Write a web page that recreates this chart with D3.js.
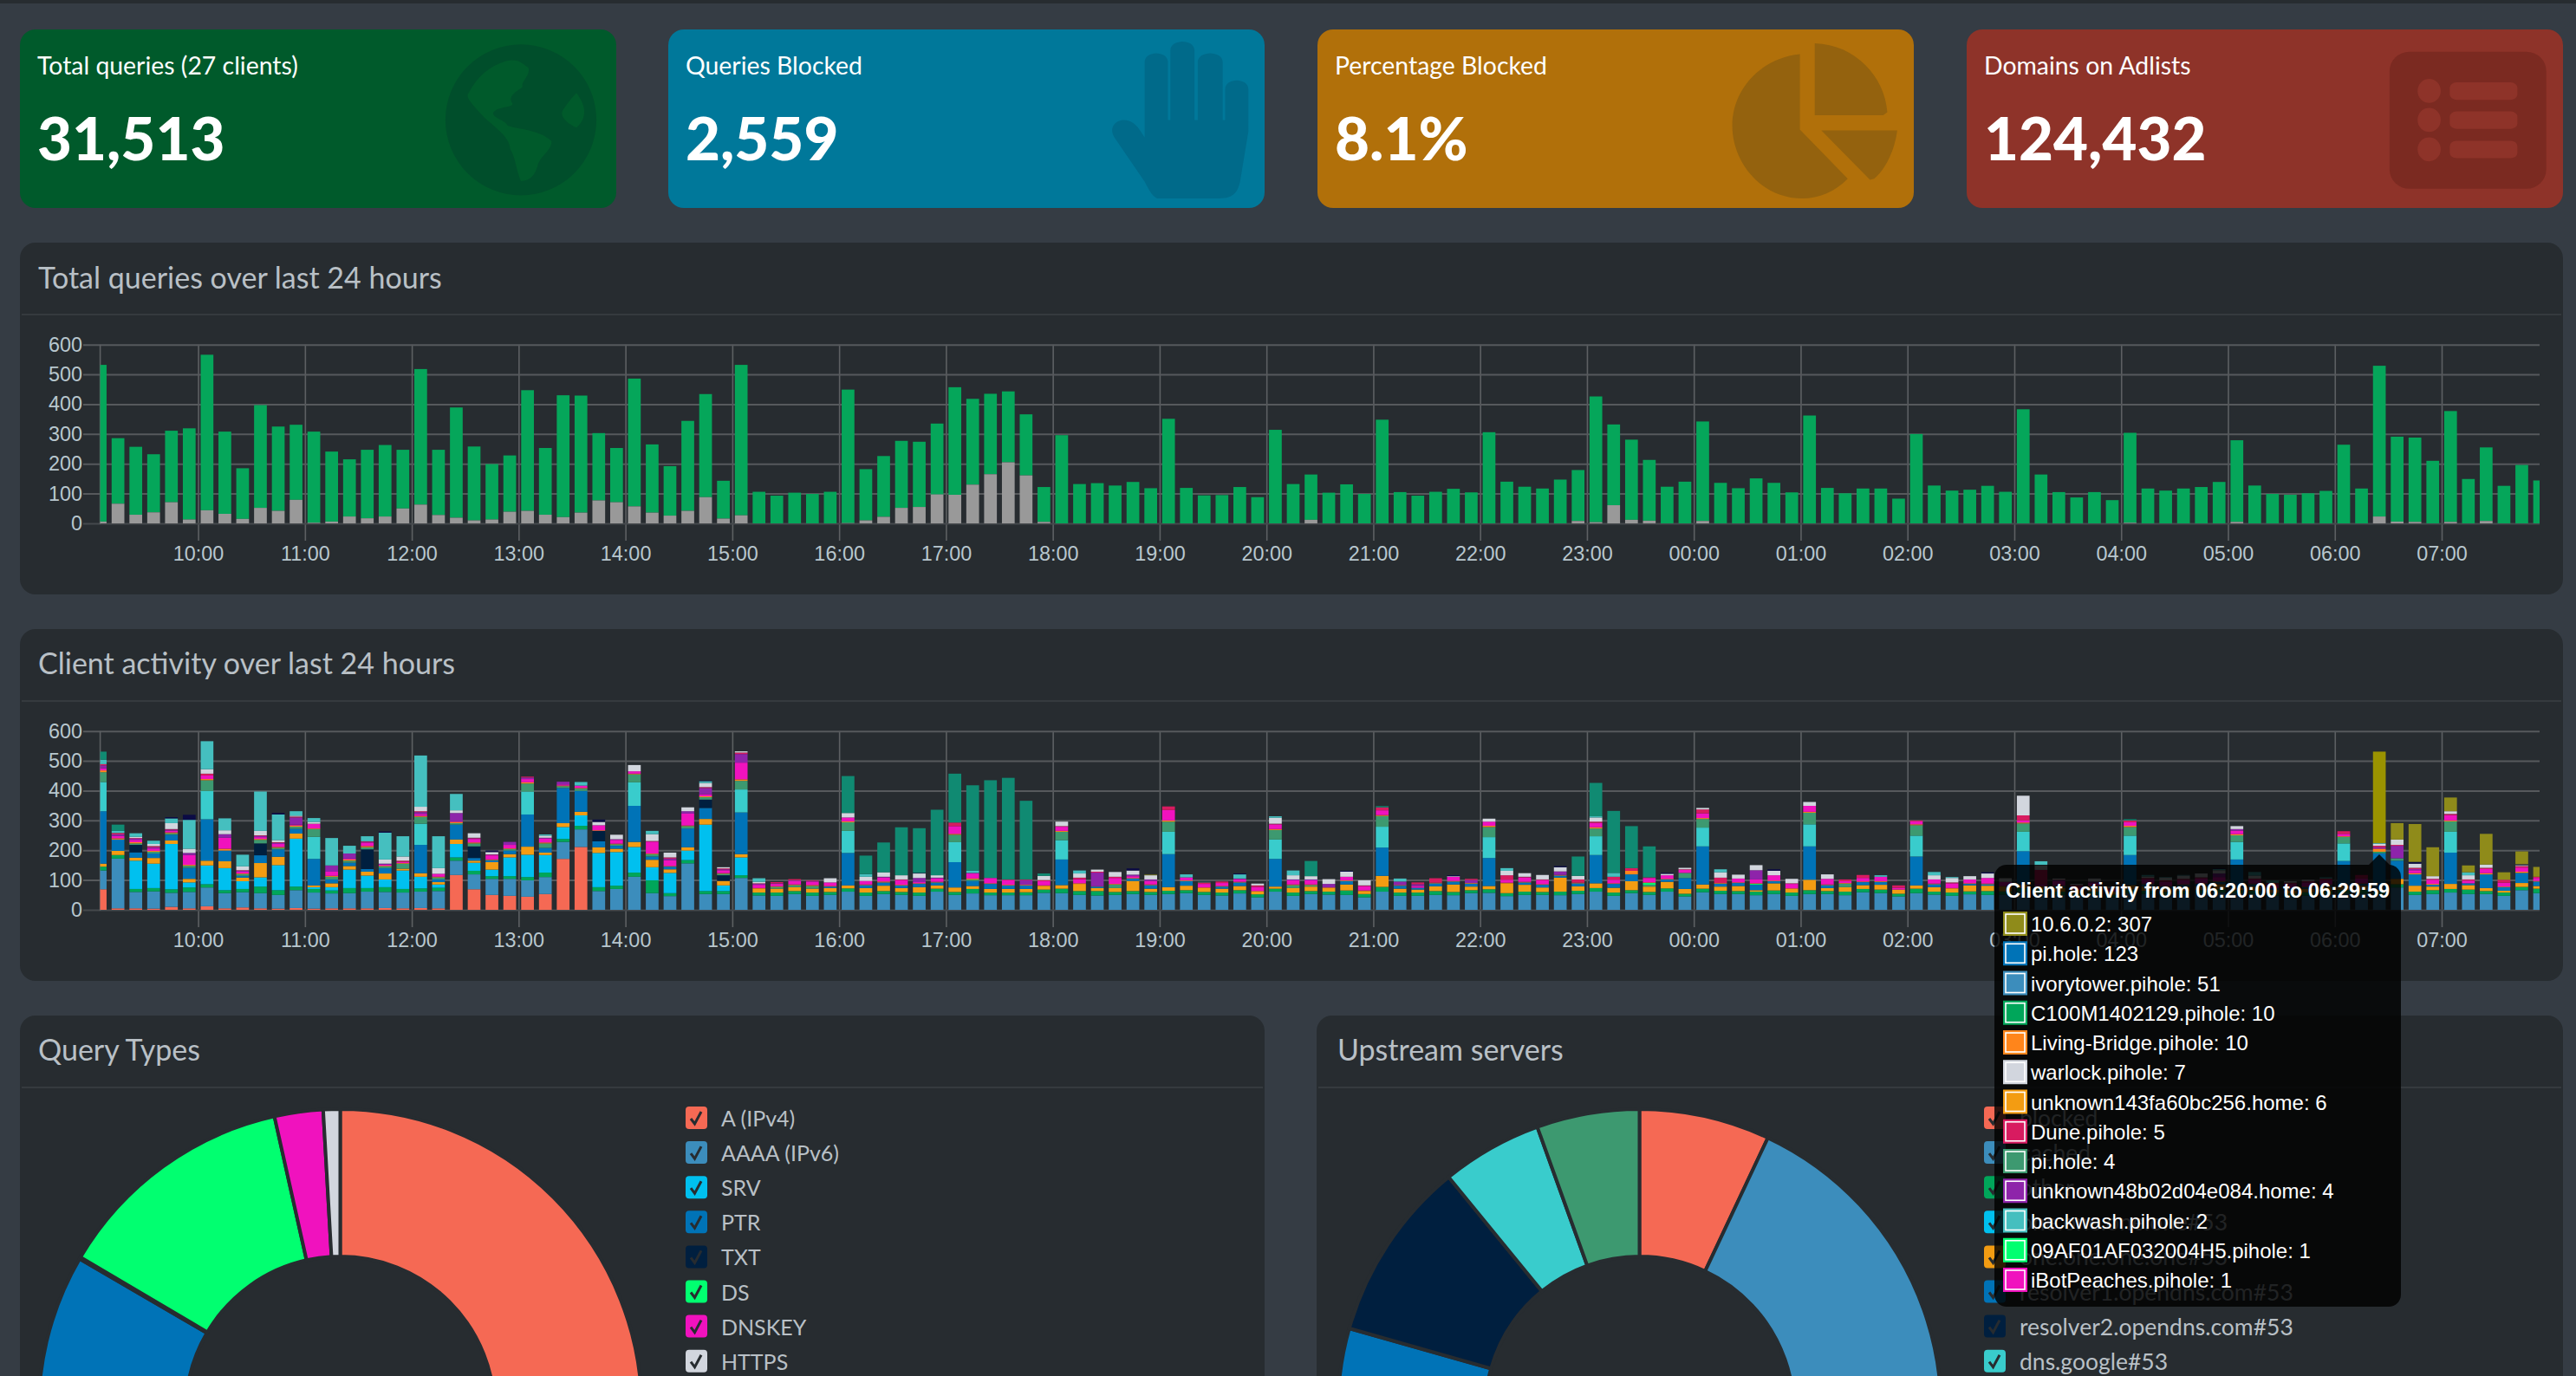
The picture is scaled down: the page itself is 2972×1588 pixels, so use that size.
<!DOCTYPE html>
<html>
<head>
<meta charset="utf-8">
<title>Pi-hole dashboard</title>
<script src="https://cdn.jsdelivr.net/npm/d3@7"></script>
<style>
    html, body { margin: 0; padding: 0; background: #353c44; overflow: hidden; }
    svg { display: block; }
    text { font-family: Lato, "Noto Sans", sans-serif; }
    .axis text { font-family: "Liberation Sans", Arial, sans-serif; font-size: 23.4px; fill: #b8c7ce; }
    .axis .domain { display: none; }
    .tip text { font-family: "Liberation Sans", Arial, sans-serif; font-size: 24px; fill: #fff; }
</style>
</head>
<body>
<div id="dashboard"></div>
<script>

// ---- summary cards ----
const cardLabels = ["Total queries (27 clients)", "Queries Blocked", "Percentage Blocked", "Domains on Adlists"];
const cardValues = ["31,513", "2,559", "8.1%", "124,432"];

// ---- total queries per 10 minutes ----
const totalQueries = [
    532,286,257,232,311,319,566,308,185,397,
    325,331,308,241,215,247,263,247,518,247,
    389,258,199,228,447,253,430,429,303,253,
    486,265,192,344,434,143,532,106,93,103,
    99,106,449,182,226,277,274,335,457,418,
    435,443,366,122,296,132,135,127,139,118,
    351,119,94,95,122,88,314,132,164,103,
    131,99,348,105,93,106,116,104,306,140,
    123,117,147,179,426,332,281,213,123,140,
    342,136,118,151,136,104,362,119,101,117,
    117,83,300,127,110,113,126,106,383,164,
    105,87,105,78,304,117,110,117,122,139,
    279,127,99,96,101,109,264,117,529,291,
    288,210,377,149,255,126,196,144
];
const blockedQueries = [
    6,66,29,37,71,13,44,32,15,52,
    42,79,2,6,23,17,23,50,63,28,
    19,10,13,39,42,29,21,36,77,71,
    57,36,26,42,88,16,27,0,0,0,
    0,0,1,10,22,52,55,97,96,130,
    165,205,161,5,0,0,0,0,0,0,
    0,0,0,0,0,0,0,0,12,0,
    0,0,0,0,0,0,0,0,0,0,
    0,0,0,8,4,61,12,9,0,0,
    8,0,0,0,0,0,0,0,0,0,
    0,0,0,0,0,0,0,0,0,0,
    0,0,0,0,2,0,0,0,0,0,
    5,0,0,0,0,0,0,0,23,6,
    5,0,5,0,8,0,0,0
];

// ---- client activity, one array per client, bottom of the stack first ----
const coralClient = [
    69,5,5,4,10,5,12,5,8,5,
    4,6,4,5,5,5,6,5,6,5,
    117,69,50,47,44,53,171,211
];
const ivorytowerClient = [
    63,167,55,58,47,55,63,51,51,51,
    46,60,54,50,51,56,54,53,55,58,
    48,50,54,57,55,57,57,59,63,70,
    111,56,46,156,53,53,107,48,47,53,
    47,50,61,47,53,50,47,61,50,55,
    49,49,49,57,56,50,48,50,53,50,
    53,56,50,48,55,42,61,47,53,51,
    50,42,61,47,47,50,49,56,57,46,
    50,50,49,53,61,47,56,50,61,45,
    59,53,53,49,53,47,53,53,49,59,
    56,45,56,51,47,52,50,51,60,55,
    50,45,50,42,55,53,50,53,55,58,
    55,53,47,45,48,52,55,54,51,75,
    50,53,58,53,53,47,66,56
];
const c100mClient = [
    13,12,10,11,12,15,11,10,11,22,
    16,12,12,10,17,12,16,12,11,11,
    11,12,9,9,11,15,10,12,13,11,
    14,43,10,11,10,10,9,10,11,10,
    11,10,11,11,10,10,11,10,10,15,
    9,9,10,11,15,13,15,10,10,10,
    11,10,10,10,11,10,10,11,10,10,
    15,11,16,11,11,13,11,10,12,10,
    11,10,12,11,12,11,10,10,11,9,
    12,11,10,12,12,11,13,10,12,11,
    12,9,15,10,11,10,13,11,13,15,
    11,10,11,9,14,11,10,10,11,12,
    11,11,10,10,11,11,12,13,10,11,
    11,13,12,15,10,11,11,15
];
const cyanClient = [
    0,0,95,82,152,17,63,74,26,31,
    84,161,6,11,62,42,26,62,39,11,
    45,27,22,63,75,59,40,35,115,113,
    86,44,68,32,223,19,60
];
const unknown143Client = [
    10,14,10,19,12,12,16,23,12,48,
    28,17,6,13,12,13,20,6,12,8,
    15,7,25,11,27,8,13,12,19,11,
    17,25,12,11,19,15,11,13,13,13,
    13,13,10,15,18,13,18,11,15,10,
    12,12,11,12,12,24,10,13,34,11,
    12,15,13,13,14,11,7,15,15,12,
    20,10,37,13,10,16,25,12,11,33,
    23,15,47,15,16,16,30,18,22,16,
    14,14,17,5,24,12,35,10,15,13,
    16,14,11,15,13,20,18,16,12,8,
    13,12,13,10,14,14,12,13,14,16,
    8,14,10,10,12,14,14,14,6,18,
    20,12,17,15,10,6,13,9
];
const piholeClient = [
    176,38,18,15,19,37,139,36,6,26,
    25,16,89,13,11,9,18,0,95,9,
    50,9,7,12,108,16,118,70,20,10,
    121,11,9,63,37,0,140,0,0,0,
    0,5,109,10,11,9,11,10,85,17,
    17,12,12,0,86,0,5,0,8,12,
    111,16,0,7,12,0,93,0,0,0,
    12,0,95,10,6,10,10,10,94,0,
    8,9,7,10,95,13,23,0,8,37,
    128,10,10,18,7,0,112,10,0,10,
    10,0,97,10,0,5,5,0,112,0,
    6,0,5,0,101,8,6,8,7,8,
    95,8,6,8,5,6,83,6,123,61,
    38,6,105,6,46,12,34,15
];
const navyClient = [
    0,0,25,0,0,0,0,0,0,40,
    0,0,0,0,0,66,0,0,0,0,
    0,39,0,0,0,0,0,0,35,0,
    0,0,0,0,28,19
];
const turquoiseClient = [
    98,0,0,0,0,0,95,0,0,0,
    0,0,74,0,0,0,0,0,71,0,
    0,0,0,0,77,0,0,0,0,0,
    79,0,0,0,0,0,77,0,0,0,
    0,0,74,0,0,0,0,0,67,0,
    0,0,0,0,65,0,0,0,0,0,
    75,0,0,0,0,0,65,0,0,0,
    0,0,70,0,0,0,0,0,70,0,
    0,0,0,0,63,0,0,0,0,0,
    63,0,0,0,0,0,74,0,0,0,
    0,0,70,0,0,0,0,0,65,0,
    0,0,0,0,65,0,0,0,0,0,
    59,0,0,0,0,0,59,0,0,0,
    0,0,70
];
const forestClient = [
    33,0,5,6,5,7,36,0,6,12,
    5,7,26,9,7,7,6,17,23,7,
    5,10,0,5,27,15,6,8,0,5,
    27,8,0,8,8,5,29,0,6,7,
    9,0,29,0,0,0,0,0,25,5,
    0,0,0,0,28,0,0,12,0,0,
    34,0,0,0,0,0,32,10,5,0,
    0,0,36,0,0,0,0,0,34,0,
    0,0,0,0,26,0,0,6,0,17,
    29,0,0,0,0,0,39,0,12,0,
    0,0,35,0,0,0,0,0,28,0,
    0,0,0,0,29,0,0,0,0,0,
    22,0,0,0,0,0,22,0,4,8,
    0,0,35,0,0,0,0,0
];
const limeClient = [
    0,0,0,0,0,0,0,0,0,0,
    0,0,0,0,0,0,0,0,0,0,
    0,0,0,0,0,0,0,0,0,0,
    0,0,0,0,0,0,0,0,0,0,
    0,0,0,0,0,0,0,0,0,0,
    0,0,0,0,0,0,0,0,0,0,
    0,0,0,0,0,0,0,0,0,0,
    0,0,0,0,0,0,0,0,0,0,
    0,0,0,0,0,0,0,6,0,0,
    0,0,0,3,0,0,0,0,0,0,
    0,0,0,0,0,0,0,0,0,0,
    0,0,0,0,0,0,0,0,0,0,
    0,0,0,0,0,0,0,0,1
];
const livingBridgeClient = [
    6,4,4,3,3,3,4,6,2,3,
    3,4,2,3,4,4,2,2,3,2,
    4,3,2,2,4,3,2,2,2,2,
    2,2,2,2,3,2,5,2,2,2,
    3,2,3,2,3,2,2,2,3,3,
    2,2,2,2,3,2,1,2,2,2,
    4,2,2,2,2,0,3,2,2,2,
    2,2,3,2,0,2,2,2,4,2,
    2,2,2,2,4,2,12,2,2,0,
    3,2,2,2,2,2,3,2,2,2,
    2,0,3,2,2,2,2,2,3,2,
    2,0,2,0,4,2,2,2,2,2,
    4,2,0,0,2,2,2,2,10,0,
    4,3,3,0,4,2,4,2
];
const ibotClient = [
    7,8,8,8,6,33,12,37,6,6,
    10,3,15,14,3,12,4,4,7,10,
    2,12,14,12,11,14,4,8,17,13,
    8,40,20,40,7,10,56,11,8,12,
    12,12,13,12,14,16,4,12,26,17,
    18,16,0,14,14,14,0,20,6,12,
    35,10,12,10,9,14,16,14,14,0,
    12,15,16,0,6,0,14,0,14,10,
    15,14,0,0,15,12,0,15,12,10,
    16,0,13,13,18,15,20,19,6,12,
    15,6,10,14,16,13,19,14,7,6,
    14,8,10,6,12,14,14,14,16,14,
    12,13,12,14,14,14,8,16,1,0,
    10,14,18,9,14,13,14,10
];
const unknown48Client = [
    10,5,4,4,3,7,0,12,3,4,
    4,24,0,21,17,2,3,0,6,0,
    28,2,2,10,5,2,9,0,0,2,
    0,0,5,8,21,3,29,3,2,2,
    2,0,0,0,2,0,14,2,0,2,
    0,0,16,0,0,0,46,0,5,5,
    0,0,0,0,2,0,0,3,3,12,
    0,0,0,12,6,0,0,10,0,0,
    0,0,12,0,0,0,0,0,0,0,
    0,0,0,31,0,0,0,0,0,0,
    0,0,0,0,0,0,0,0,0,0,
    3,0,4,0,0,0,0,0,0,12,
    5,0,0,0,0,0,0,0,4,42,
    4
];
const duneClient = [
    4,5,2,4,2,0,6,0,2,2,
    2,3,1,0,0,2,0,4,3,0,
    0,2,1,0,3,0,0,0,0,0,
    0,2,4,0,3,3,5,2,4,4,
    2,0,0,0,0,2,0,0,12,0,
    0,2,2,4,2,5,3,4,0,0,
    12,0,5,5,0,5,2,0,0,0,
    0,2,10,0,6,15,0,4,0,15,
    2,2,0,11,4,10,9,2,0,2,
    13,18,0,0,0,2,0,0,6,10,
    0,8,3,0,3,0,0,0,17,48,
    2,8,0,5,6,5,5,4,4,0,
    0,4,5,4,4,6,9,12,5,3,
    4,3,4,4,4,10,5,4
];
const warlockClient = [
    0,0,4,7,20,14,15,13,13,15,
    7,3,6,0,0,0,14,14,15,19,
    9,15,8,0,0,7,0,0,11,15,
    21,23,16,13,14,4,4,5,0,0,
    0,14,15,14,15,14,15,8,0,0,
    0,0,0,14,15,14,7,16,14,14,
    0,0,0,0,0,6,20,14,11,16,
    17,17,0,0,0,0,2,0,10,15,
    12,15,14,12,14,0,0,0,5,5,
    5,18,13,17,15,15,13,15,0,0,
    0,0,0,14,15,11,15,12,66,16,
    4,4,10,6,0,5,9,11,13,11,
    10,10,0,5,5,0,0,0,7,18,
    14,9,9,14,11,0,3,0
];
const backwashClient = [
    15,7,12,11,16,97,94,40,39,132,
    86,15,13,92,26,17,90,68,172,107,
    55,0,0,0,0,4,0,12,0,0,
    0,11,0,0,6,0,0,12,0,0,
    0,0,0,9,0,0,0,0,0,8,
    0,0,0,0,0,10,0,0,0,0,
    0,10,0,0,14,0,5,16,0,0,
    0,0,0,10,0,0,0,0,0,9,
    0,0,0,0,4,13,0,0,0,0,
    0,10,0,0,0,0,0,0,0,0,
    5,0,0,11,3,0,0,0,0,13,
    0,0,0,0,0,5,2,2,0,4,
    0,12,9,0,0,4,0,0,2,0,
    0,0,0,10
];
const midnightClient = [
    0,0,0,0,4,17,0,0,0,0,
    5,0,0,0,0,0,4,0,0,0,
    0,0,5,0,0,0,0,0,8,0,
    0,0,0,0,2,0,0,0,0,0,
    0,0,0,0,0,0,2,0,0,0,
    0,0,0,0,0,0,0,0,7,0,
    0,0,0,0,3,0,0,0,0,0,
    3,0,0,0,0,0,3,0,0,0,
    0,0,4,0,0,0,0,0,3,0,
    0,0,0,0,5,0,0,0,0,0,
    0,0,0,0,0,0,4,0,0,0,
    0,0,0,0,0,0,0,0,0,2,
    0,0,0,0,0,0,0,0,0,0,
    6,0,0,0,0,0,3
];
const tealClient = [
    27,21,0,0,0,0,0,0,0,0,
    0,0,0,0,0,0,0,0,0,0,
    0,0,0,0,0,0,0,0,0,0,
    0,0,0,0,0,0,0,0,0,0,
    0,0,124,62,100,161,150,220,164,286,
    328,341,264,8,0,0,0,0,0,0,
    0,0,2,0,0,0,0,0,51,0,
    0,0,4,0,0,0,0,0,0,0,
    0,0,0,65,112,208,141,104,0,0,
    0,0,0,0,0,0,0,0,0,0,
    0,0,0,0,0,0,0,0,0,0,
    0,0,0,0,4
];
const oliveClient = [
    0,0,0,0,0,0,0,0,0,0,
    0,0,0,0,0,0,0,0,0,0,
    0,0,0,0,0,0,0,0,0,0,
    0,0,0,0,0,0,0,0,0,0,
    0,0,0,0,0,0,0,0,0,0,
    0,0,0,0,0,0,0,0,0,2,
    0,0,0,0,0,0,0,0,0,0,
    0,0,0,0,0,0,0,0,0,0,
    0,0,0,0,0,0,0,0,0,0,
    0,0,0,0,0,0,0,0,0,0,
    0,0,0,0,0,0,0,0,0,0,
    0,0,0,0,0,0,0,0,0,0,
    0,0,0,0,0,0,0,0,307,55,
    127,97,46,23,103,25,43,33
];
const clientSeries = [coralClient, ivorytowerClient, c100mClient, cyanClient, unknown143Client,
    piholeClient, navyClient, turquoiseClient, forestClient, limeClient, livingBridgeClient,
    ibotClient, unknown48Client, duneClient, warlockClient, backwashClient, midnightClient,
    tealClient, oliveClient];
const clientColors = ["#f56954", "#3c8dbc", "#00a65a", "#00c0ef", "#f39c12",
    "#0073b7", "#001f3f", "#39cccc", "#3d9970", "#01ff70", "#ff851b",
    "#f012be", "#8e24aa", "#d81b60", "#d2d6de", "#45bfbf", "#0b0b45",
    "#108a72", "#8f8b1a"];

// ---- tooltip of the hovered bar ----
const tipTitle = "Client activity from 06:20:00 to 06:29:59";
const tipLabels = ["10.6.0.2: 307", "pi.hole: 123", "ivorytower.pihole: 51", "C100M1402129.pihole: 10",
    "Living-Bridge.pihole: 10", "warlock.pihole: 7", "unknown143fa60bc256.home: 6", "Dune.pihole: 5",
    "pi.hole: 4", "unknown48b02d04e084.home: 4", "backwash.pihole: 2", "09AF01AF032004H5.pihole: 1",
    "iBotPeaches.pihole: 1"];
const tipColors = ["#8f8b1a", "#0073b7", "#3c8dbc", "#00a65a", "#ff851b", "#d2d6de", "#f39c12",
    "#d81b60", "#3d9970", "#8e24aa", "#45bfbf", "#01ff70", "#f012be"];

// ---- doughnuts ----
const queryTypeLabels = ["A (IPv4)", "AAAA (IPv6)", "SRV", "PTR", "TXT", "DS", "DNSKEY", "HTTPS"];
const queryTypeValues = [50, 12, 2, 19.4, 0.1, 13, 2.6, 0.9];
const queryTypeColors = ["#f56954", "#3c8dbc", "#00c0ef", "#0073b7", "#001f3f", "#01ff70", "#f012be", "#d2d6de"];

const upstreamLabels = ["blocked", "cached", "other", "one.one.one.one#53", "one.one.one.one#53",
    "resolver1.opendns.com#53", "resolver2.opendns.com#53", "dns.google#53"];
const upstreamValues = [7, 50.4, 4, 4, 4, 10, 9.7, 5.4, 5.5];
const upstreamColors = ["#f56954", "#3c8dbc", "#00a65a", "#00c0ef", "#f39c12", "#0073b7", "#001f3f", "#39cccc", "#3d9970"];

const yTicks = [0, 100, 200, 300, 400, 500, 600];

const panelBg = "#272c30";
const sepColor = "#353a3e";
const titleColor = "#b9c0c6";

const svg = d3.select("#dashboard").append("svg")
    .attr("width", 2972)
    .attr("height", 1588);

// page header strip
svg.append("rect").attr("width", 2972).attr("height", 4).attr("fill", panelBg);

// bins of the time charts, bar centres 10 minutes apart
const startTime = new Date(2021, 0, 1, 9, 5);
const endTime = new Date(2021, 0, 2, 7, 55);
const bins = d3.timeMinute.range(startTime, new Date(+endTime + 1), 10);
const x = d3.scaleTime().domain([startTime, endTime]).range([115.6, 2930]);
const barWidth = 14.7;

svg.append("clipPath").attr("id", "plotClip")
    .append("rect").attr("x", 115.6).attr("y", 0).attr("width", 2930 - 115.6).attr("height", 1588);

function drawPanel(px, py, pw, ph, sepY, title, tx, ty) {
    let g = svg.append("g");
    g.append("rect").attr("x", px).attr("y", py).attr("width", pw).attr("height", ph)
        .attr("rx", 18).attr("fill", panelBg);
    g.append("rect").attr("x", px + 2).attr("y", sepY).attr("width", pw - 4).attr("height", 2)
        .attr("fill", sepColor);
    g.append("text").attr("x", tx).attr("y", ty).text(title)
        .attr("font-size", 34).attr("fill", titleColor);
}

// grid and axes shared by both time charts, returns the y scale
function drawAxes(top, bottom) {
    let y = d3.scaleLinear().domain([0, 600]).range([bottom, top]);

    let xAxis = svg.append("g").attr("class", "axis")
        .attr("transform", `translate(0, ${top})`)
        .call(d3.axisBottom(x)
            .ticks(d3.timeHour.every(1))
            .tickSize(bottom - top + 20)
            .tickPadding(6)
            .tickFormat(d3.timeFormat("%H:%M")));
    xAxis.selectAll("line").attr("stroke", "#5d6063").attr("stroke-width", 1.6);

    let yAxis = svg.append("g").attr("class", "axis")
        .attr("transform", "translate(96, 0)")
        .call(d3.axisLeft(y)
            .tickValues(yTicks)
            .tickSize(-(2930 - 96))
            .tickPadding(1));
    yAxis.selectAll("line")
        .attr("stroke", d => d === 0 ? "#45494c" : "#56595c")
        .attr("stroke-width", 2);

    // left edge of the time axis
    svg.append("line").attr("x1", x(startTime)).attr("x2", x(startTime))
        .attr("y1", top).attr("y2", bottom + 1)
        .attr("stroke", "#5d6063").attr("stroke-width", 1.6);

    return y;
}

// ---- cards ----
const cardX = [23, 771, 1520, 2269];
const cardColors = ["#005a2b", "#00789a", "#b1700a", "#8e3329"];
const iconColors = ["#004e2b", "#006a8a", "#94620e", "#7b2a21"];

cardLabels.forEach((label, i) => {
    let g = svg.append("g");
    g.append("rect").attr("x", cardX[i]).attr("y", 34).attr("width", 688).attr("height", 206)
        .attr("rx", 18).attr("fill", cardColors[i]);
    g.append("text").attr("x", cardX[i] + 20).attr("y", 86).text(label)
        .attr("font-size", 28.4).attr("fill", "#fff");
    g.append("text").attr("x", cardX[i] + 20).attr("y", 185).text(cardValues[i])
        .attr("font-size", 69).attr("font-weight", 900).attr("fill", "#fff");
});

// icons, traced in zoomed coordinates then scaled back
const icon1 = svg.append("g").attr("transform", "scale(0.957, 0.4464)");
icon1.append("ellipse").attr("cx", 628).attr("cy", 310).attr("rx", 91).attr("ry", 195).attr("fill", iconColors[0]);
icon1.append("path").attr("fill", cardColors[0])
    .attr("d", "M610 158C625 150 630 165 637 175C640 195 628 210 630 225C620 240 612 250 618 268C618 278 600 275 595 290C592 305 610 310 612 325C625 335 650 335 665 365C665 390 650 405 648 430C645 450 640 468 628 468C622 440 622 410 615 385C615 350 590 320 580 295C570 270 560 250 565 240C575 200 590 170 610 158Z M695 240C705 270 710 300 695 330C685 320 672 300 680 280C685 265 690 250 695 240Z");
icon1.append("path").attr("fill", iconColors[1])
    .attr("d", "M1395 513C1388 505 1385 490 1380 470L1345 360C1335 330 1345 310 1355 310C1370 312 1375 340 1380 355L1380 160C1380 130 1408 130 1408 160L1408 310L1411 310L1411 130C1411 100 1440 100 1440 130L1440 310L1444 310L1444 160C1444 130 1474 130 1474 160L1474 310L1477 310L1477 230C1477 200 1505 200 1505 230L1505 340L1495 470C1492 495 1488 513 1470 513Z");

const icon2 = svg.append("g").attr("transform", "translate(1480, 0) scale(0.9515, 0.4464)");
icon2.append("path").attr("fill", iconColors[2])
    .attr("d", "M627 140L627 335L685 462C670 495 650 513 630 513C580 513 545 420 545 325C545 230 580 150 627 140Z M645 112C695 115 730 200 733 290L728 298L645 298Z M653 337L745 337C742 390 730 440 717 462L712 465Z");
icon2.append("rect").attr("x", 1342).attr("y", 134).attr("width", 190).attr("height", 354)
    .attr("rx", 24).attr("ry", 50).attr("fill", iconColors[3]);
[235, 310, 386].forEach(cy => {
    icon2.append("ellipse").attr("cx", 1390).attr("cy", cy).attr("rx", 14).attr("ry", 31).attr("fill", cardColors[3]);
    icon2.append("rect").attr("x", 1415).attr("y", cy - 22).attr("width", 82).attr("height", 45)
        .attr("rx", 8).attr("ry", 14).attr("fill", cardColors[3]);
});

// ---- total queries chart ----
drawPanel(23, 280, 2934, 406, 362, "Total queries over last 24 hours", 44, 333);
const yTotal = drawAxes(397.7, 604);

svg.append("g").attr("clip-path", "url(#plotClip)")
    .selectAll("g").data(bins).join("g")
    .each(function (d, i) {
        let bar = d3.select(this);
        bar.append("rect")
            .attr("x", x(d) - barWidth / 2).attr("width", barWidth)
            .attr("y", yTotal(totalQueries[i]))
            .attr("height", yTotal(blockedQueries[i]) - yTotal(totalQueries[i]))
            .attr("fill", "#05a65a");
        bar.append("rect")
            .attr("x", x(d) - barWidth / 2).attr("width", barWidth)
            .attr("y", yTotal(blockedQueries[i]))
            .attr("height", yTotal(0) - yTotal(blockedQueries[i]))
            .attr("fill", "#999999");
    });

// ---- client activity chart ----
drawPanel(23, 726, 2934, 406, 808, "Client activity over last 24 hours", 44, 778);
const yClient = drawAxes(843.7, 1050);

const stack = d3.stack()
    .keys(d3.range(clientSeries.length))
    .value((i, key) => clientSeries[key][i] || 0);
const hoverBin = 128;

svg.append("g").attr("clip-path", "url(#plotClip)")
    .selectAll("g").data(stack(d3.range(bins.length))).join("g")
    .attr("fill", d => clientColors[d.key])
    .selectAll("rect").data(d => d).join("rect")
    .attr("x", (d, i) => x(bins[i]) - barWidth / 2)
    .attr("width", barWidth)
    .attr("y", d => yClient(d[1]))
    .attr("height", d => yClient(d[0]) - yClient(d[1]))
    .attr("fill", function (d, i) {
        // the hovered olive segment is a little stronger
        let key = d3.select(this.parentNode).datum().key;
        return (i === hoverBin && key === clientSeries.length - 1) ? "#9a9300" : null;
    });

// ---- doughnuts ----
function drawDoughnut(cx, cy, values, colors) {
    let pie = d3.pie().sort(null)(values);
    let arc = d3.arc().innerRadius(178).outerRadius(348);
    svg.append("g").attr("transform", `translate(${cx}, ${cy})`)
        .selectAll("path").data(pie).join("path")
        .attr("d", arc)
        .attr("fill", (d, i) => colors[i])
        .attr("stroke", panelBg)
        .attr("stroke-width", 4);
}

function drawLegend(lx, labels, colors, fontSize) {
    let row = svg.append("g").selectAll("g").data(labels).join("g")
        .attr("transform", (d, i) => `translate(${lx}, ${1277 + i * 40.1})`);
    row.append("rect").attr("width", 25).attr("height", 26).attr("rx", 4)
        .attr("fill", (d, i) => colors[i]);
    row.append("path").attr("d", "M6 14L10.5 20L18 6")
        .attr("fill", "none").attr("stroke", panelBg).attr("stroke-width", 3);
    row.append("text").attr("x", 41).attr("y", 23).text(d => d)
        .attr("font-size", fontSize).attr("fill", titleColor);
}

drawPanel(23, 1172, 1436, 500, 1254, "Query Types", 44, 1224);
drawDoughnut(392.5, 1628, queryTypeValues, queryTypeColors);
drawLegend(791, queryTypeLabels, queryTypeColors, 25);

drawPanel(1519, 1172, 1438, 500, 1254, "Upstream servers", 1543, 1224);
drawDoughnut(1891.5, 1628, upstreamValues, upstreamColors);
drawLegend(2289, upstreamLabels, upstreamColors, 26.5);

// ---- tooltip ----
const tip = svg.append("g").attr("class", "tip");
tip.append("path").attr("d", "M2733 998L2745 986L2757 998Z").attr("fill", "rgba(0,0,0,0.82)");
tip.append("rect").attr("x", 2301).attr("y", 998).attr("width", 469).attr("height", 510)
    .attr("rx", 14).attr("fill", "rgba(0,0,0,0.82)");
tip.append("text").attr("x", 2314).attr("y", 1036).text(tipTitle)
    .attr("font-weight", 700).style("font-size", "23.6px");

const tipRow = tip.selectAll(".row").data(tipLabels).join("g")
    .attr("class", "row")
    .attr("transform", (d, i) => `translate(2311, ${1052 + i * 34.25})`);
tipRow.append("rect").attr("width", 28).attr("height", 28).attr("fill", (d, i) => tipColors[i]);
tipRow.append("rect").attr("x", 3).attr("y", 3).attr("width", 22).attr("height", 22)
    .attr("fill", "none").attr("stroke", "#fff").attr("stroke-width", 1.6);
tipRow.append("text").attr("x", 32).attr("y", 23).text(d => d);

</script>
</body>
</html>
